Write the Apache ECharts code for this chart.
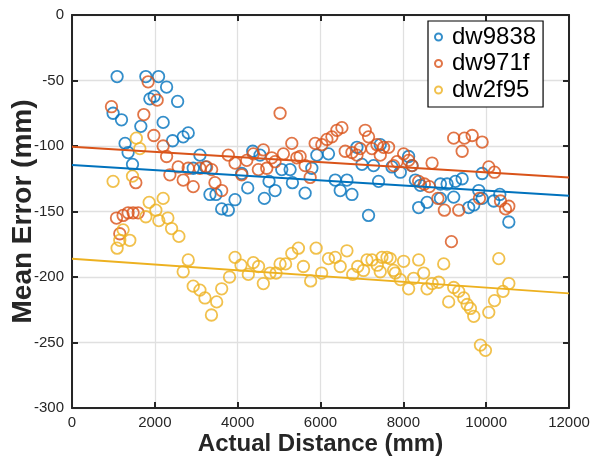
<!DOCTYPE html>
<html><head><meta charset="utf-8">
<script src="https://cdn.jsdelivr.net/npm/echarts@6/dist/echarts.min.js"></script>
<style>html,body{margin:0;padding:0;background:#fff}#c{width:591px;height:457px}</style>
</head><body><div id="c"></div>
<script>
const seriesNames = ['dw9838', 'dw971f', 'dw2f95'];
const xTicks = [0, 2000, 4000, 6000, 8000, 10000, 12000];
const yTicks = [-300, -250, -200, -150, -100, -50, 0];

const dw9838 = [[1089,-47],[1783,-47],[2090,-47],[2284,-55],[1880,-64],[1984,-62],[2550,-66],[992,-75],[1195,-80],[1662,-85],[2201,-82],[2806,-90],[2685,-93],[2429,-96],[1282,-98],[1355,-105],[1461,-114],[3089,-107],[2927,-117],[3227,-116],[3331,-137],[3476,-137],[3614,-148],[3774,-149],[3936,-141],[4243,-132],[4364,-104],[4540,-107],[4098,-121],[4644,-140],[4903,-134],[4758,-127],[5065,-118],[5266,-118],[5322,-128],[5629,-136],[5912,-107],[6193,-106],[5791,-117],[6355,-126],[6638,-126],[6476,-134],[6759,-137],[6880,-101],[7001,-114],[7281,-115],[7160,-153],[7402,-127],[7443,-99],[7726,-116],[7927,-120],[8128,-108],[8210,-115],[8290,-126],[8411,-130],[8370,-147],[8573,-143],[8895,-129],[9057,-129],[9258,-127],[9420,-125],[8895,-140],[9216,-139],[9579,-147],[9700,-145],[9821,-134],[9903,-121],[9903,-140],[10184,-142],[10329,-137],[10547,-158]];

const dw971f = [[953,-70],[1838,-51],[2056,-65],[1734,-76],[1976,-92],[2201,-100],[2284,-108],[2564,-116],[2363,-122],[2685,-126],[2927,-131],[2806,-117],[3089,-117],[3251,-116],[3372,-118],[3452,-128],[3614,-134],[1541,-128],[1074,-155],[1234,-153],[1355,-151],[1476,-151],[1597,-151],[1154,-167],[3774,-107],[3936,-113],[4098,-122],[4219,-111],[4378,-106],[4620,-103],[4823,-109],[4499,-118],[4703,-117],[4903,-112],[5104,-106],[5307,-98],[5428,-109],[5629,-115],[5750,-124],[5024,-75],[5508,-108],[5871,-98],[6033,-99],[6154,-95],[6275,-93],[6396,-88],[6517,-86],[6597,-104],[6759,-105],[6880,-107],[6959,-102],[7080,-88],[7160,-93],[7242,-102],[7363,-99],[7523,-101],[7644,-101],[7443,-107],[7765,-115],[7847,-112],[8007,-106],[8128,-111],[8210,-115],[8694,-113],[8370,-127],[8508,-129],[8629,-131],[8834,-140],[8991,-149],[9338,-149],[9216,-94],[9475,-94],[9662,-92],[9903,-97],[9420,-104],[9838,-140],[10063,-116],[10201,-120],[10346,-142],[10467,-148],[10547,-146],[9161,-173]];

const dw2f95 = [[1553,-94],[1638,-102],[1461,-123],[992,-127],[1863,-143],[2201,-140],[1783,-154],[2025,-149],[2097,-157],[2315,-155],[2404,-163],[2581,-169],[1234,-164],[1154,-172],[1396,-172],[1089,-178],[2806,-187],[2685,-196],[2927,-207],[3089,-210],[3210,-216],[3493,-219],[3367,-229],[3614,-209],[3803,-200],[3936,-185],[4081,-191],[4257,-198],[4378,-189],[4504,-192],[4620,-205],[4782,-197],[4927,-197],[5024,-190],[5157,-190],[5307,-182],[5467,-178],[5588,-192],[5762,-203],[5895,-178],[6028,-197],[6193,-186],[6355,-185],[6476,-192],[6638,-180],[6778,-198],[6899,-192],[7039,-195],[7122,-187],[7243,-187],[7371,-191],[7484,-185],[7605,-185],[7685,-186],[7443,-196],[7765,-195],[7806,-197],[7927,-202],[8007,-188],[8128,-209],[8249,-201],[8370,-187],[8491,-197],[8573,-209],[8694,-205],[8854,-204],[8975,-190],[9095,-219],[9216,-208],[9338,-211],[9458,-216],[9541,-221],[9620,-224],[9700,-230],[10063,-227],[10201,-218],[10407,-211],[10547,-205],[10305,-186],[9862,-252],[9983,-256]];

const fit9838 = [[0,-114.5],[12000,-138]];
const fit971f = [[0,-100.5],[12000,-124]];
const fit2f95 = [[0,-186],[12000,-212.5]];

const colors = ['#0072BD', '#D95319', '#EDB120'];
const FONT = 'Liberation Sans, Arial, Helvetica, sans-serif';
const AX = '#262626';

const chart = echarts.init(document.getElementById('c'), null, {renderer: 'canvas'});

function scatter(name, data, c) {
  return {
    name, type: 'scatter', data, symbol: 'circle', symbolSize: 11.5,
    itemStyle: {color: 'rgba(255,255,255,0)', borderColor: c, borderWidth: 1.8},
    emphasis: {disabled: true}, animation: false
  };
}
function fit(name, data, c) {
  return {
    name, type: 'line', data, symbol: 'none', silent: true,
    lineStyle: {color: c, width: 2}, animation: false, z: 3
  };
}
const axisCommon = {
  axisLine: {show: true, onZero: false, lineStyle: {color: AX, width: 2}},
  axisTick: {show: true, inside: true, length: 6, lineStyle: {color: AX, width: 2}},
};
const plain = v => String(v);

chart.setOption({
  animation: false,
  backgroundColor: '#fff',
  grid: {left: 72, right: 22, top: 15, bottom: 49, containLabel: false, outerBoundsMode: 'none'},
  legend: {
    data: seriesNames.map((n, i) => ({name: n, icon: 'circle',
      itemStyle: {color: '#fff', borderColor: colors[i], borderWidth: 2}})),
    orient: 'vertical', left: 428, top: 21,
    itemWidth: 17, itemHeight: 7, itemGap: 2.5, symbolKeepAspect: true,
    padding: [4, 7, 5, 6],
    backgroundColor: '#fff', borderColor: '#000', borderWidth: 1.2,
    textStyle: {fontFamily: FONT, fontSize: 24, color: '#000', lineHeight: 24}
  },
  xAxis: [{
    type: 'value', min: xTicks[0], max: xTicks[xTicks.length - 1], interval: 2000,
    position: 'bottom', ...axisCommon,
    axisLabel: {fontFamily: FONT, fontSize: 15, color: AX, margin: 7, formatter: plain},
    splitLine: {show: true, lineStyle: {color: '#e0e0e0', width: 1.3}},
    name: 'Actual Distance (mm)', nameLocation: 'middle', nameGap: 24, nameMoveOverlap: false,
    nameTextStyle: {fontFamily: FONT, fontSize: 24, fontWeight: 'bold', color: AX, verticalAlign: 'top'}
  }, {
    type: 'value', min: xTicks[0], max: xTicks[xTicks.length - 1], interval: 2000,
    position: 'top', ...axisCommon, axisLabel: {show: false}, splitLine: {show: false}
  }],
  yAxis: [{
    type: 'value', min: yTicks[0], max: yTicks[yTicks.length - 1], interval: 50,
    position: 'left', ...axisCommon,
    axisLabel: {fontFamily: FONT, fontSize: 15, color: AX, margin: 8, formatter: plain},
    splitLine: {show: true, lineStyle: {color: '#e0e0e0', width: 1.3}},
    name: 'Mean Error (mm)', nameLocation: 'middle', nameGap: 35, nameMoveOverlap: false,
    nameTextStyle: {fontFamily: FONT, fontSize: 28, fontWeight: 'bold', color: AX}
  }, {
    type: 'value', min: yTicks[0], max: yTicks[yTicks.length - 1], interval: 50,
    position: 'right', ...axisCommon, axisLabel: {show: false}, splitLine: {show: false}
  }],
  series: [
    scatter(seriesNames[0], dw9838, colors[0]),
    scatter(seriesNames[1], dw971f, colors[1]),
    scatter(seriesNames[2], dw2f95, colors[2]),
    fit('fit ' + seriesNames[0], fit9838, colors[0]),
    fit('fit ' + seriesNames[1], fit971f, colors[1]),
    fit('fit ' + seriesNames[2], fit2f95, colors[2])
  ]
});
</script>
</body></html>
